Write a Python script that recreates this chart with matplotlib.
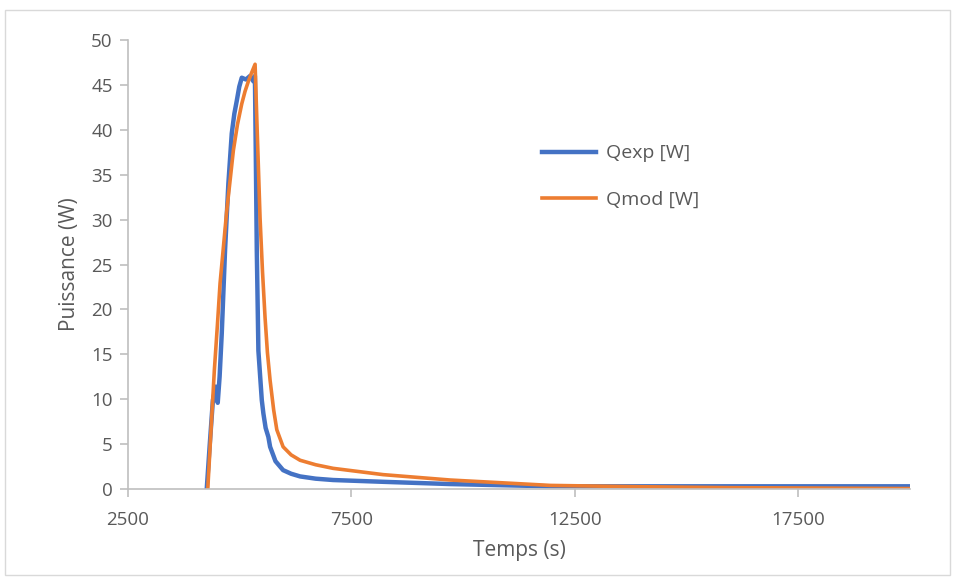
import matplotlib
matplotlib.use("Agg")
import matplotlib.pyplot as plt
from matplotlib.patches import Rectangle

# (time in s, power in W)
tExp = [4262, 4330, 4400, 4464, 4508, 4550, 4598, 4672, 4746, 4822, 4880, 4933, 4990, 5046,
        5140, 5232, 5306, 5340, 5359, 5382, 5418, 5494, 5530, 5580, 5641, 5680, 5800, 5971,
        6150, 6351, 6700, 7090, 8210, 9710, 11950, 14000, 16000, 18000, 20000]
qExp = [0.0, 5.0, 9.9, 11.4, 9.6, 12.5, 17.3, 26.6, 34.0, 39.6, 41.8, 43.2, 44.8, 45.8,
        45.6, 46.0, 45.4, 46.0, 37.7, 26.6, 15.4, 9.9, 8.4, 6.8, 5.8, 4.7, 3.1, 2.1,
        1.7, 1.4, 1.15, 1.0, 0.8, 0.55, 0.3, 0.3, 0.3, 0.3, 0.3]

tMod = [4285, 4374, 4432, 4500, 4560, 4640, 4710, 4790, 4858, 4950, 5046, 5120, 5194, 5270,
        5344, 5382, 5455, 5510, 5567, 5620, 5680, 5760, 5830, 5971, 6150, 6351, 6700, 7090,
        8210, 9710, 11210, 11950, 14000, 16000, 18000, 20000]
qMod = [0.0, 8.0, 13.2, 18.2, 22.9, 27.2, 31.0, 34.6, 37.7, 40.6, 42.9, 44.3, 45.4, 46.4,
        47.3, 41.3, 30.2, 24.2, 19.1, 15.2, 12.1, 8.8, 6.6, 4.7, 3.8, 3.2, 2.7, 2.3,
        1.6, 1.0, 0.6, 0.4, 0.25, 0.15, 0.1, 0.05]

xTicks = [2500, 7500, 12500, 17500]
yTicks = [0, 5, 10, 15, 20, 25, 30, 35, 40, 45, 50]

plt.rcParams['font.family'] = ['Open Sans', 'DejaVu Sans']
grey = '#595959'
axisGrey = '#bfbfbf'

fig = plt.figure(figsize=(9.55, 5.79), dpi=100)
fig.patches.append(Rectangle((5 / 955, 4 / 579), 945 / 955, 565 / 579, transform=fig.transFigure,
                             fill=False, edgecolor='#d9d9d9', linewidth=1))
ax = fig.add_axes([128 / 955, 90 / 579, 782 / 955, 449 / 579])

ax.plot(tExp, qExp, color='#4472c4', linewidth=3.2, label='Qexp [W]', solid_joinstyle='round')
ax.plot(tMod, qMod, color='#ed7d31', linewidth=2.6, label='Qmod [W]', solid_joinstyle='round')

ax.set_xlim(2500, 20000)
ax.set_ylim(0, 50)
ax.set_xticks(xTicks)
ax.set_yticks(yTicks)

for side in ['top', 'right']:
    ax.spines[side].set_visible(False)
for side in ['left', 'bottom']:
    ax.spines[side].set_color(axisGrey)
    ax.spines[side].set_linewidth(1.2)
ax.tick_params(colors=axisGrey, labelcolor=grey, labelsize=13.5, length=6, width=1.2)
ax.tick_params(axis='x', pad=10)
ax.tick_params(axis='y', pad=5)

ax.set_xlabel('Temps (s)', fontsize=15, color=grey, labelpad=8)
ax.set_ylabel('Puissance (W)', fontsize=15, color=grey, labelpad=8)

ax.legend(loc='center left', bbox_to_anchor=(0.529, 0.696), frameon=False, fontsize=14,
          labelcolor=grey, handlelength=2.8, handletextpad=0.5, labelspacing=1.45,
          borderaxespad=0, borderpad=0)

fig.savefig('out.png', dpi=100)
